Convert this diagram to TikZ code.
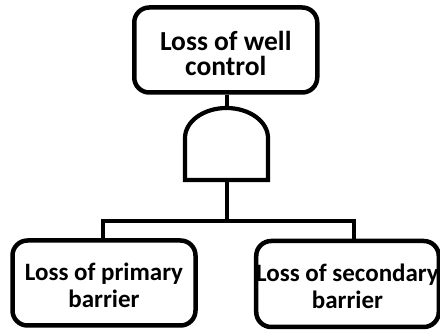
\documentclass[tikz,border=0pt]{standalone}
\usepackage{fontspec}
\setmainfont{Carlito}
\newcommand{\lowerby}[1]{\rule{0pt}{#1}}
\begin{document}
\begin{tikzpicture}[x=1pt,y=-1pt,
  box/.style={draw, line width=4.5pt, rounded corners=15pt, align=center,
    inner sep=0pt, font=\bfseries\fontsize{25}{27}\selectfont},
  topbox/.style={box, font=\bfseries\fontsize{27.5}{25}\selectfont},
  wire/.style={line width=4pt},
  gatepath/.style={line width=4.2pt, line join=miter}]
\useasboundingbox (0,0) rectangle (440,331);

% events
\node[topbox, minimum width=183pt, minimum height=85pt] (top) at (225.75,50) {\lowerby{27pt}Loss of well\\control};
\node[box, minimum width=183pt, minimum height=85pt] (left) at (104,283) {\lowerby{22.5pt}Loss of primary\\barrier};
\node[box, minimum width=180pt, minimum height=86pt] (right) at (347.5,284) {\lowerby{22.5pt}Loss of secondary\\barrier};

% AND gate
\coordinate (gtop) at (226.5,108);
\coordinate (gbot) at (226.5,180);
\draw[gatepath] (185,180) -- (185,138)
  arc[start angle=180, end angle=0, x radius=41.5pt, y radius=30pt]
  -- (268,180) -- cycle;

% connectors
\coordinate (j) at (226.5,221.5);
\draw[wire] (top.south -| gtop) -- (gtop);
\draw[wire] (gbot) -- (j);
\draw[wire] ([xshift=-1.5pt]left.north) |- (j) -| ([xshift=6pt]right.north);
\end{tikzpicture}
\end{document}
